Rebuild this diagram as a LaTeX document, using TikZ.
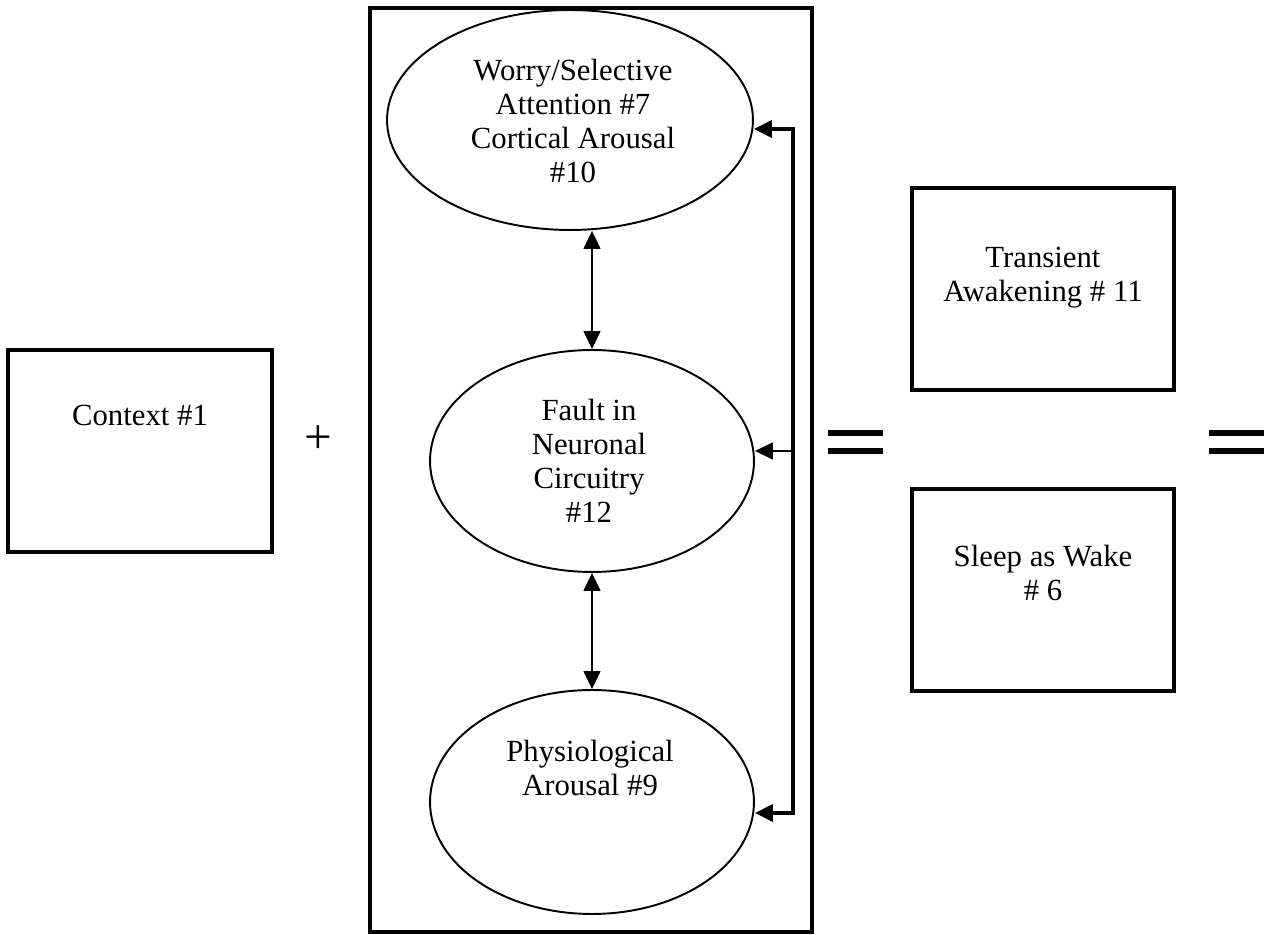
\documentclass[tikz,border=0pt]{standalone}
\usepackage{fontspec}
\setmainfont{Liberation Serif}
\usetikzlibrary{arrows.meta,shapes.geometric}
\begin{document}
\begin{tikzpicture}[x=0.02cm,y=-0.02cm,
  oval/.style={ellipse,draw,line width=1.1pt,inner sep=0pt},
  sqbox/.style={rectangle,draw,line width=2.2pt,inner sep=0pt,minimum width=5.24cm,minimum height=4.04cm},
  txt/.style={align=center,inner sep=0pt,font=\fontsize{17.5}{19.4}\selectfont},
  tip/.style={-{Triangle[length=0.36cm,width=0.34cm]}},
  dtip/.style={{Triangle[length=0.36cm,width=0.34cm]}-{Triangle[length=0.36cm,width=0.34cm]}},
  thinarrow/.style={line width=0.85pt},
  fbk/.style={line width=2.2pt,line join=miter},
  eqline/.style={line width=3.4pt}
]
\useasboundingbox (0,0) rectangle (1269,935);
% frame
\node[rectangle,draw,line width=2.2pt,inner sep=0pt,minimum width=8.84cm,minimum height=18.48cm] (frame) at (591,470) {};
% ellipses
\node[oval,minimum width=7.32cm,minimum height=4.4cm] (worry) at (570,120) {};
\node[oval,minimum width=6.48cm,minimum height=4.44cm] (fault) at (592,461) {};
\node[oval,minimum width=6.48cm,minimum height=4.48cm] (phys) at (592,802) {};
\node[txt] (worryt) at (573,121) {Worry/Selective\\Attention \#7\\Cortical Arousal\\\#10};
\node[txt] (faultt) at (589,461) {Fault in\\Neuronal\\Circuitry\\\#12};
\node[txt] (physt) at (590,768) {Physiological\\Arousal \#9};
% vertical arrows
\draw[thinarrow,dtip] (worry.south -| fault.north) -- (fault.north);
\draw[thinarrow,dtip] (fault.south) -- (phys.north);
% feedback
\coordinate (fbtop) at (793,129);
\coordinate (fbmid) at (793,451);
\coordinate (fbbot) at (793,813);
\draw[fbk,dtip] (worry.east |- fbtop) -- (fbtop) -- (fbbot) -- (phys.east |- fbbot);
\draw[thinarrow,tip] (fbmid) -- (fault.east |- fbmid);
% context
\node[sqbox,minimum width=5.28cm] (ctx) at (140,451) {};
\node[txt] (ctxt) at (140,415) {Context \#1};
\node[inner sep=0pt,font=\fontsize{28}{28}\selectfont] (plus) at (318,440) {+};
% equals
\draw[eqline] (828,433) -- (883,433);
\draw[eqline] (828,451) -- (883,451);
\draw[eqline] (1209,433) -- (1264,433);
\draw[eqline] (1209,451) -- (1264,451);
% right boxes
\node[sqbox] (trans) at (1043,289) {};
\node[txt] (transt) at (1043,278) {Transient\\Awakening \# 11};
\node[sqbox] (sleep) at (1043,590) {};
\node[txt] (sleept) at (1043,573) {Sleep as Wake\\\# 6};
\end{tikzpicture}
\end{document}
